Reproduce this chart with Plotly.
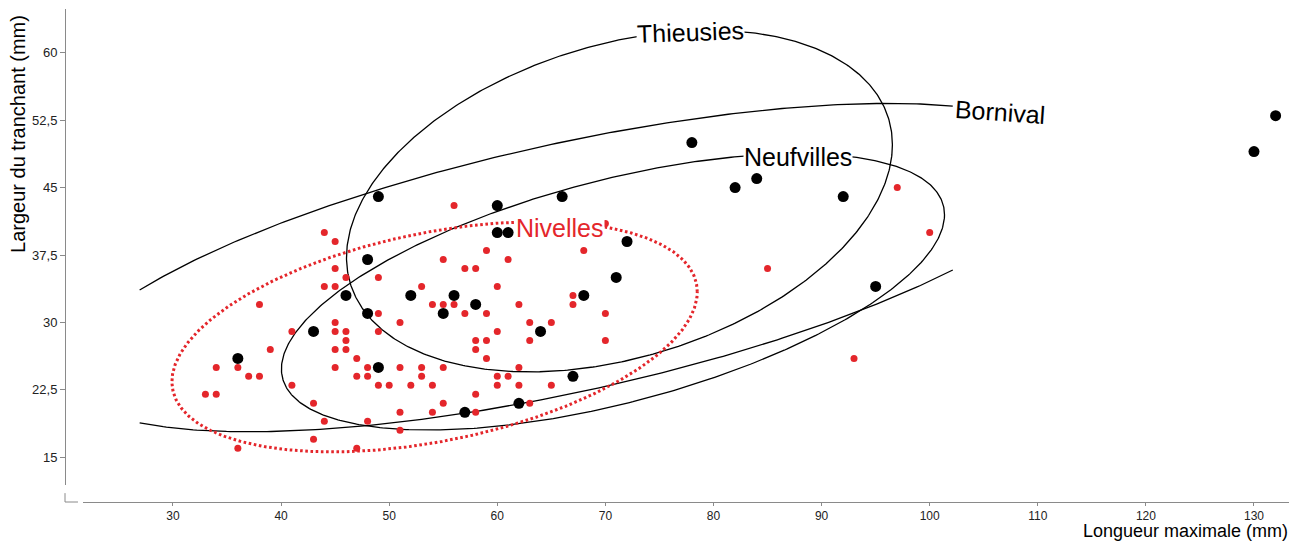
import numpy as np
import plotly.graph_objects as go

# ---------------- data ----------------
nivelles_x = [45, 55, 45, 49, 44, 45, 46, 53, 38, 54, 55, 45, 49, 51, 41, 45, 46, 46, 49, 39,
              45, 46, 47, 34, 36, 45, 48, 51, 53, 55, 37, 38, 47, 48, 53, 33, 34, 41, 49, 50,
              52, 54, 43, 51, 54, 55, 44, 48, 51, 43, 36, 47, 70, 59, 68, 61, 57, 58, 60, 56,
              57, 59, 62, 67, 67, 63, 65, 70, 60, 63, 70, 58, 59, 58, 59, 62, 60, 61, 60, 62,
              65, 58, 63, 58, 44, 56, 97, 100, 85, 93]
nivelles_y = [39, 37, 36, 35, 34, 34, 35, 34, 32, 32, 32, 30, 31, 30, 29, 29, 29, 28, 29, 27,
              27, 27, 26, 25, 25, 25, 25, 25, 25, 25, 24, 24, 24, 24, 24, 22, 22, 23, 23, 23,
              23, 23, 21, 20, 20, 21, 19, 19, 18, 17, 16, 16, 41, 38, 38, 37, 36, 36, 34, 32,
              31, 31, 32, 33, 32, 30, 30, 31, 29, 28, 28, 28, 28, 27, 26, 25, 24, 24, 23, 23,
              23, 22, 21, 20, 40, 43, 45, 40, 36, 26]

autres_x = [36, 43, 46, 48, 48, 49, 49, 52, 55, 56, 58, 60, 61, 60, 66, 64, 67, 62, 57, 68,
            71, 72, 78, 82, 84, 92, 95, 130, 132]
autres_y = [26, 29, 33, 37, 31, 25, 44, 33, 31, 33, 32, 40, 40, 43, 44, 29, 24, 21, 20, 33,
            35, 39, 50, 45, 46, 44, 34, 49, 53]

# ellipses: name, centre x, centre y, half-width x, half-height y, correlation
ell_names = ["Thieusies", "Neufvilles", "Bornival", "Nivelles"]
ell_cx = [71.3, 70.7, 66.6, 54.2]
ell_cy = [43.5, 33.4, 36.1, 28.4]
ell_sx = [25.25, 30.67, 46.57, 24.3]
ell_sy = [19.0, 15.37, 18.26, 12.8]
ell_r = [0.33, 0.558, 0.635, 0.39]
bornival_clip = [26.7, 102.2]

# ellipse labels (data coordinates)
lab_x = [77.9, 87.8, 106.5, 65.8]
lab_y = [62.3, 48.4, 53.4, 40.5]
lab_angle = [-2, 0, 4, 0]

x_ticks = [30, 40, 50, 60, 70, 80, 90, 100, 110, 120, 130]
y_ticks = [15, 22.5, 30, 37.5, 45, 52.5, 60]
y_ticktext = ["15", "22,5", "30", "37,5", "45", "52,5", "60"]

RED = "#E4262B"
GREY = "#8a8a8a"
FONT = "Liberation Sans, Arial, sans-serif"


def ellipse(cx, cy, sx, sy, r, n=600):
    t = np.linspace(0, 2 * np.pi, n)
    x = cx + sx * np.cos(t)
    y = cy + sy * (r * np.cos(t) + np.sqrt(1 - r * r) * np.sin(t))
    return x, y


fig = go.Figure()

for i, name in enumerate(ell_names):
    x, y = ellipse(ell_cx[i], ell_cy[i], ell_sx[i], ell_sy[i], ell_r[i])
    xs = [float(v) for v in x]
    ys = [float(v) for v in y]
    if name == "Bornival":
        xs2, ys2 = [], []
        for xv, yv in zip(xs, ys):
            if bornival_clip[0] <= xv <= bornival_clip[1]:
                xs2.append(xv); ys2.append(yv)
            else:
                xs2.append(None); ys2.append(None)
        xs, ys = xs2, ys2
    if name == "Nivelles":
        line = dict(color=RED, width=3, dash="2.6px,2.6px")
    else:
        line = dict(color="black", width=1.3)
    fig.add_trace(go.Scatter(x=xs, y=ys, mode="lines", line=line,
                             hoverinfo="skip", showlegend=False, connectgaps=False))

fig.add_trace(go.Scatter(x=nivelles_x, y=nivelles_y, mode="markers",
                         marker=dict(color=RED, size=7, line=dict(width=0)),
                         showlegend=False))
fig.add_trace(go.Scatter(x=autres_x, y=autres_y, mode="markers",
                         marker=dict(color="black", size=11, line=dict(width=0)),
                         showlegend=False))

annotations = []
for i, name in enumerate(ell_names):
    annotations.append(dict(
        x=lab_x[i], y=lab_y[i], xref="x", yref="y", text=name, showarrow=False,
        font=dict(family=FONT, size=25, color=RED if name == "Nivelles" else "black"),
        bgcolor="white", borderpad=0, textangle=lab_angle[i],
        xanchor="center", yanchor="middle"))

annotations.append(dict(
    x=-0.0384, y=0.7465, xref="paper", yref="paper", text="Largeur du tranchant (mm)",
    showarrow=False, textangle=-90, font=dict(family=FONT, size=20, color="black"),
    xanchor="center", yanchor="middle"))
annotations.append(dict(
    x=1.0008, y=0, xref="paper", yref="paper", text="Longueur maximale (mm)",
    showarrow=False, font=dict(family=FONT, size=18, color="black"),
    xanchor="right", yanchor="bottom", yshift=-40.5))

shapes = [
    dict(type="line", xref="paper", yref="paper", x0=0, x1=0, y0=0, y1=0.018,
         line=dict(color=GREY, width=1)),
    dict(type="line", xref="paper", yref="paper", x0=0, x1=0.0106, y0=0, y1=0,
         line=dict(color=GREY, width=1)),
]

# page body keeps an 8px margin, so the figure is 8px smaller and margins shifted
fig.update_layout(
    width=1300, height=534,
    margin=dict(l=57, r=19, t=1, b=40),
    plot_bgcolor="white", paper_bgcolor="white",
    font=dict(family=FONT, size=13, color="#222"),
    xaxis=dict(domain=[0.0147, 1], range=[21.674, 133.238], anchor="free", position=0,
               showline=True, linecolor=GREY, linewidth=1, showgrid=False, zeroline=False,
               ticks="outside", ticklen=3, tickcolor=GREY, tickvals=x_ticks,
               tickfont=dict(family=FONT, size=12, color="#222")),
    yaxis=dict(domain=[0.0345, 1], range=[11.919, 64.861], anchor="free", position=0,
               showline=True, linecolor=GREY, linewidth=1, showgrid=False, zeroline=False,
               ticks="outside", ticklen=5, tickcolor=GREY, tickvals=y_ticks,
               ticktext=y_ticktext, tickfont=dict(family=FONT, size=13, color="#222")),
    annotations=annotations,
    shapes=shapes,
    showlegend=False,
)

fig.write_html("out.html")
